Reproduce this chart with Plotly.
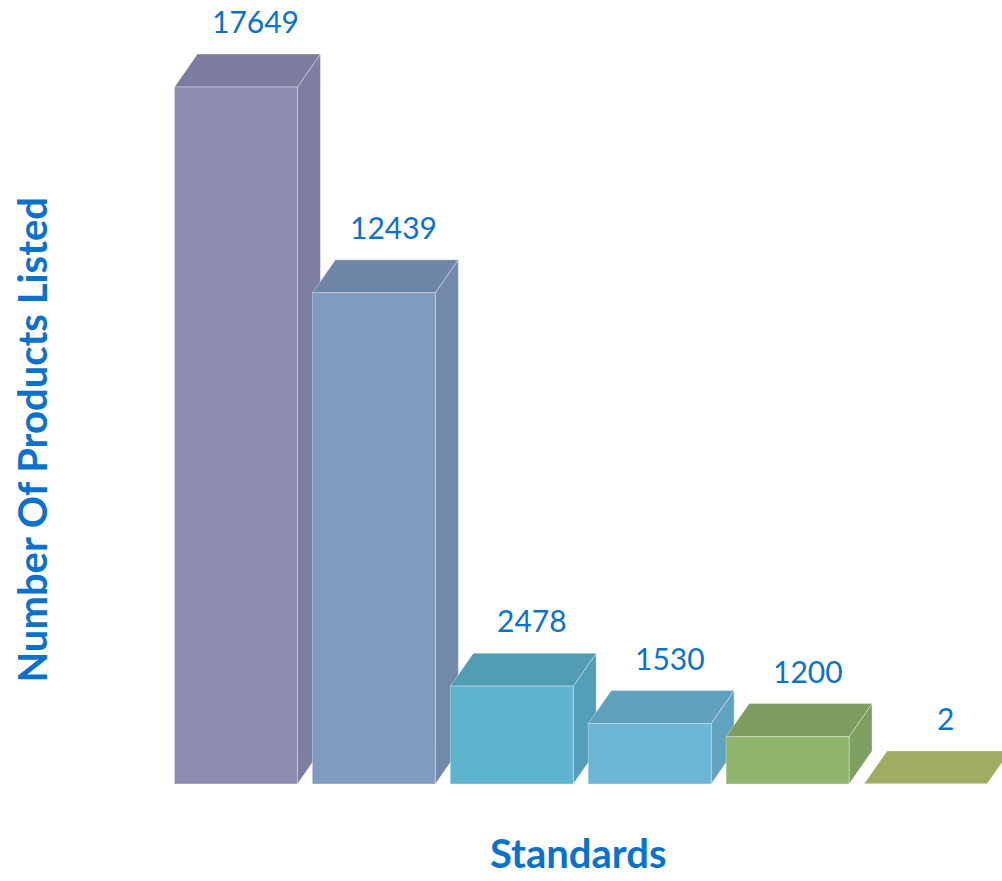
import plotly.graph_objects as go

# ---- data ----
categories = ["1", "2", "3", "4", "5", "6"]
values = [17649, 12439, 2478, 1530, 1200, 2]
value_labels = ["17649", "12439", "2478", "1530", "1200", "2"]
x_title = "Standards"
y_title = "Number Of Products Listed"

# ---- styles ----
front_colors = ["#8C8CB1", "#7F9BBF", "#5EB3CD", "#6DB6D6", "#8FB46D", "#A0AD60"]
top_colors = ["#7C7C9E", "#7086A6", "#539DB4", "#60A1BD", "#7D9C5F", "#A0AC5F"]
side_colors = ["#7E7EA1", "#7289AA", "#539FB6", "#60A3BF", "#7EA060", "#98A55A"]
EDGE = "rgba(255,255,255,0.35)"
BLUE = "#0A72CC"

# ---- layout geometry (pixels) ----
FIG_W, FIG_H = 1002, 881
M_L, M_R, M_T, M_B = 166.5, 0, 0, 97
PLOT_W = FIG_W - M_L - M_R
PLOT_H = FIG_H - M_T - M_B
PITCH_PX = 138          # distance between bar centres
TALLEST_PX = 697        # pixel height of tallest bar's front face
DEPTH_X_PX, DEPTH_Y_PX = 23, 33
BAR_W = 123 / PITCH_PX

X0 = -0.5
X1 = X0 + PLOT_W / PITCH_PX
Y0 = 0
Y1 = max(values) * PLOT_H / TALLEST_PX

DX = DEPTH_X_PX * (X1 - X0) / PLOT_W
DY = DEPTH_Y_PX * (Y1 - Y0) / PLOT_H

xs = list(range(len(values)))

fig = go.Figure()

# front faces as real bars
fig.add_trace(go.Bar(
    x=xs, y=values, width=BAR_W,
    marker=dict(color=front_colors, line=dict(color=EDGE, width=1)),
    customdata=categories, hovertemplate="%{y}<extra></extra>",
))

def poly(px, py, color):
    fig.add_trace(go.Scatter(
        x=px + [px[0]], y=py + [py[0]], mode="lines", fill="toself",
        fillcolor=color, line=dict(color=EDGE, width=1),
        hoverinfo="skip", showlegend=False,
    ))

for i, v in enumerate(values):
    xl = xs[i] - BAR_W / 2
    xr = xs[i] + BAR_W / 2
    # side face
    poly([xr, xr, xr + DX, xr + DX], [0, v, v + DY, DY], side_colors[i])
    # top face
    poly([xl, xr, xr + DX, xl + DX], [v, v, v + DY, v + DY], top_colors[i])
    # front face (re-drawn so it sits in front of the previous bar's side)
    poly([xl, xr, xr, xl], [0, 0, v, v], front_colors[i])

for i, v in enumerate(values):
    fig.add_annotation(
        x=xs[i], y=v, text=value_labels[i], showarrow=False,
        xshift=20, yshift=66, font=dict(family="Lato", size=30, color=BLUE),
    )

# axis titles
fig.add_annotation(
    xref="paper", yref="paper",
    x=(578 - M_L) / PLOT_W, y=(PLOT_H - FIG_H + 2) / PLOT_H,
    text="<b>" + x_title + "</b>", showarrow=False,
    xanchor="center", yanchor="bottom",
    font=dict(family="Lato", size=40, color=BLUE),
)
fig.add_annotation(
    xref="paper", yref="paper",
    x=(31 - M_L) / PLOT_W, y=(PLOT_H - 440) / PLOT_H,
    text="<b>" + y_title + "</b>", showarrow=False, textangle=-90,
    xanchor="center", yanchor="middle",
    font=dict(family="Lato", size=40, color=BLUE),
)

fig.update_layout(
    width=FIG_W, height=FIG_H,
    margin=dict(l=M_L, r=M_R, t=M_T, b=M_B, pad=0),
    paper_bgcolor="white", plot_bgcolor="white",
    showlegend=False,
    xaxis=dict(range=[X0, X1], showticklabels=False, showgrid=False,
               zeroline=False, showline=False, ticks=""),
    yaxis=dict(range=[Y0, Y1], showticklabels=False, showgrid=False,
               zeroline=False, showline=False, ticks=""),
)

fig.write_html("out.html", config={"displayModeBar": False},
               post_script="document.body.style.margin='0';")
